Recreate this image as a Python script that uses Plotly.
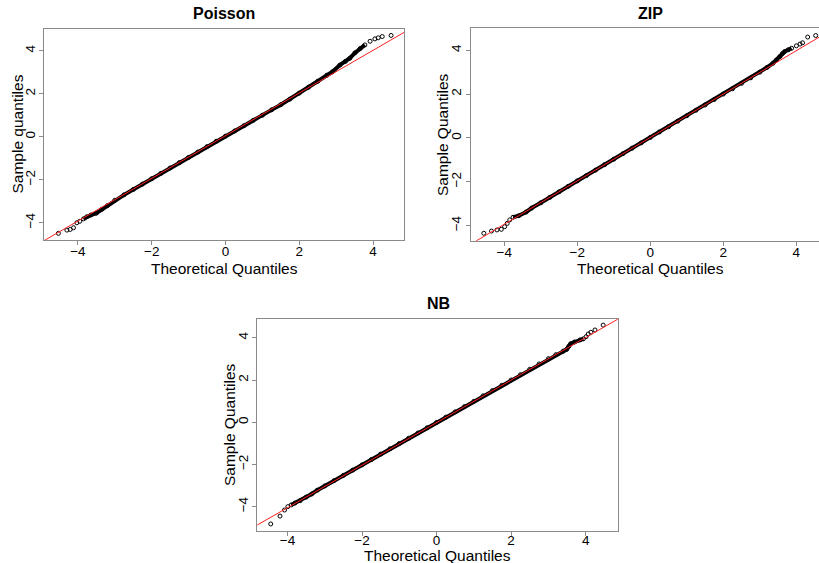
import plotly.graph_objects as go

# ---------------- data ----------------
panel_titles = ["Poisson", "ZIP", "NB"]
y_titles = ["Sample quantiles", "Sample Quantiles", "Sample Quantiles"]
x_title = "Theoretical Quantiles"
tick_vals = [-4, -2, 0, 2, 4]

poisson_theo = [-4.53, -4.30, -4.21, -4.12, -4.03, -3.95, -3.85, -3.76, -3.65, -3.50, -3.35, -3.20,
                -3.00, -2.75, -2.50, -2.25, -2.00, -1.75, -1.50, -1.25, -1.00, -0.75, -0.50, -0.25,
                0.00, 0.25, 0.50, 0.75, 1.00, 1.25, 1.50, 1.75, 2.00, 2.25, 2.50, 2.75, 2.90, 3.10,
                3.25, 3.37, 3.51, 3.65, 3.78, 3.92, 4.05, 4.14, 4.25, 4.49]
poisson_samp = [-4.49, -4.34, -4.31, -4.23, -4.00, -3.93, -3.82, -3.72, -3.64, -3.55, -3.37, -3.20,
                -2.95, -2.70, -2.45, -2.20, -1.95, -1.70, -1.45, -1.20, -0.96, -0.71, -0.46, -0.21,
                0.03, 0.27, 0.51, 0.76, 1.00, 1.25, 1.49, 1.75, 2.03, 2.30, 2.58, 2.86, 3.02, 3.33,
                3.50, 3.65, 3.90, 4.10, 4.27, 4.44, 4.55, 4.60, 4.66, 4.71]

zip_theo = [-4.56, -4.35, -4.20, -4.08, -3.99, -3.92, -3.85, -3.76, -3.60, -3.40, -3.25, -3.00,
            -2.75, -2.50, -2.25, -2.00, -1.75, -1.50, -1.25, -1.00, -0.75, -0.50, -0.25, 0.00,
            0.25, 0.50, 0.75, 1.00, 1.25, 1.50, 1.75, 2.00, 2.25, 2.50, 2.75, 3.00, 3.20, 3.36,
            3.45, 3.55, 3.62, 3.68, 3.78, 3.87, 4.00, 4.10, 4.17, 4.31, 4.53]
zip_samp = [-4.35, -4.25, -4.20, -4.17, -4.05, -3.90, -3.74, -3.62, -3.55, -3.38, -3.20, -2.96,
            -2.71, -2.46, -2.21, -1.96, -1.72, -1.47, -1.22, -0.97, -0.72, -0.47, -0.23, 0.02,
            0.27, 0.51, 0.76, 1.01, 1.26, 1.50, 1.75, 2.00, 2.24, 2.49, 2.74, 3.00, 3.22, 3.41,
            3.55, 3.71, 3.85, 3.94, 4.02, 4.09, 4.20, 4.28, 4.34, 4.60, 4.67]

nb_theo = [-4.45, -4.20, -4.08, -3.99, -3.90, -3.80, -3.66, -3.50, -3.35, -3.20, -3.00, -2.75,
           -2.50, -2.25, -2.00, -1.75, -1.50, -1.25, -1.00, -0.75, -0.50, -0.25, 0.00, 0.25,
           0.50, 0.75, 1.00, 1.25, 1.50, 1.75, 2.00, 2.25, 2.50, 2.75, 3.00, 3.20, 3.40, 3.49,
           3.55, 3.60, 3.70, 3.85, 3.94, 4.01, 4.07, 4.14, 4.25, 4.47]
nb_samp = [-4.82, -4.45, -4.16, -4.00, -3.92, -3.83, -3.72, -3.55, -3.40, -3.22, -3.02, -2.77,
           -2.52, -2.27, -2.02, -1.77, -1.51, -1.26, -1.01, -0.76, -0.51, -0.26, -0.01, 0.24,
           0.49, 0.74, 0.99, 1.25, 1.50, 1.75, 2.00, 2.25, 2.51, 2.76, 3.01, 3.20, 3.37, 3.45,
           3.60, 3.72, 3.80, 3.90, 3.95, 4.05, 4.18, 4.26, 4.37, 4.60]

# qqline intercept / slope per panel
line_intercept = [0.05, 0.02, -0.02]
line_slope = [0.992, 0.99, 1.008]

# dense region limits (where points overlap into a band)
dense_lo = [-3.9, -3.80, -3.9]
dense_hi = [3.78, 3.95, 3.95]

# ---------------- layout geometry ----------------
W, H = 819, 563
x_domains = [[44 / W, 404 / W], [470.7 / W, 1.0], [257.3 / W, 617.7 / W]]
y_domains = [[1 - 240 / H, 1 - 29 / H], [1 - 240.7 / H, 1 - 28.3 / H], [1 - 530.7 / H, 1 - 319 / H]]
x_ranges = [[-4.92, 4.84], [-4.92, 4.62], [-4.81, 4.86]]
y_ranges = [[-4.80, 5.01], [-4.69, 5.00], [-5.14, 4.89]]
x_label_standoff = [-5, -5, -7]

FONT = "Liberation Sans, Arial, Helvetica, sans-serif"
BOX = "#8a8a8a"

series = [(poisson_theo, poisson_samp), (zip_theo, zip_samp), (nb_theo, nb_samp)]

fig = go.Figure()
for i, (tx, sy) in enumerate(series):
    xa = "x" if i == 0 else f"x{i+1}"
    ya = "y" if i == 0 else f"y{i+1}"
    dx = [a for a in tx if dense_lo[i] <= a <= dense_hi[i]]
    dy = [b for a, b in zip(tx, sy) if dense_lo[i] <= a <= dense_hi[i]]
    fig.add_trace(go.Scatter(x=dx, y=dy, mode="lines", xaxis=xa, yaxis=ya,
                             line=dict(color="black", width=4), showlegend=False,
                             hoverinfo="skip"))
    fig.add_trace(go.Scatter(x=tx, y=sy, mode="markers", xaxis=xa, yaxis=ya,
                             marker=dict(symbol="circle-open", size=4,
                                         color="black", line=dict(width=1, color="black")),
                             showlegend=False))
    lx = [x_ranges[i][0] - 1, x_ranges[i][1] + 1]
    ly = [line_intercept[i] + line_slope[i] * v for v in lx]
    fig.add_trace(go.Scatter(x=lx, y=ly, mode="lines", xaxis=xa, yaxis=ya,
                             line=dict(color="#ff2020", width=1), showlegend=False,
                             hoverinfo="skip"))

layout = dict(width=W, height=H, margin=dict(l=0, r=0, t=0, b=0),
              paper_bgcolor="white", plot_bgcolor="white",
              font=dict(family=FONT, color="black"))
for i in range(3):
    sx = "xaxis" if i == 0 else f"xaxis{i+1}"
    sy = "yaxis" if i == 0 else f"yaxis{i+1}"
    yname = "y" if i == 0 else f"y{i+1}"
    xname = "x" if i == 0 else f"x{i+1}"
    layout[sx] = dict(domain=x_domains[i], range=x_ranges[i], anchor=yname,
                      showgrid=False, zeroline=False, showline=True, linecolor=BOX,
                      linewidth=1, mirror=True, ticks="outside", ticklen=4,
                      tickcolor=BOX, tickvals=tick_vals, ticklabelstandoff=x_label_standoff[i],
                      tickfont=dict(size=13.5, family=FONT, color="black"))
    layout[sy] = dict(domain=y_domains[i], range=y_ranges[i], anchor=xname,
                      showgrid=False, zeroline=False, showline=True, linecolor=BOX,
                      linewidth=1, mirror=(i != 1), ticks="outside", ticklen=4,
                      tickcolor=BOX, tickvals=tick_vals, tickangle=-90,
                      ticklabelstandoff=-1,
                      tickfont=dict(size=13.5, family=FONT, color="black"))
fig.update_layout(**layout)

# titles and axis labels
title_pos = [(224, 13.5), (650, 13.5), (438, 303)]
xlab_pos = [(224, 268), (650, 268), (437.5, 555.5)]
ylab_pos = [(17, 134.5), (442.5, 134.5), (229, 425)]
for i in range(3):
    fig.add_annotation(x=title_pos[i][0] / W, y=1 - title_pos[i][1] / H, xref="paper", yref="paper",
                       text=f"<b>{panel_titles[i]}</b>", showarrow=False,
                       font=dict(size=16, family=FONT, color="black"),
                       xanchor="center", yanchor="middle")
    fig.add_annotation(x=xlab_pos[i][0] / W, y=1 - xlab_pos[i][1] / H, xref="paper", yref="paper",
                       text=x_title, showarrow=False,
                       font=dict(size=15.5, family=FONT, color="black"),
                       xanchor="center", yanchor="middle")
    fig.add_annotation(x=ylab_pos[i][0] / W, y=1 - ylab_pos[i][1] / H, xref="paper", yref="paper",
                       text=y_titles[i], showarrow=False, textangle=-90,
                       font=dict(size=15.5, family=FONT, color="black"),
                       xanchor="center", yanchor="middle")

fig.write_html("out.html")
